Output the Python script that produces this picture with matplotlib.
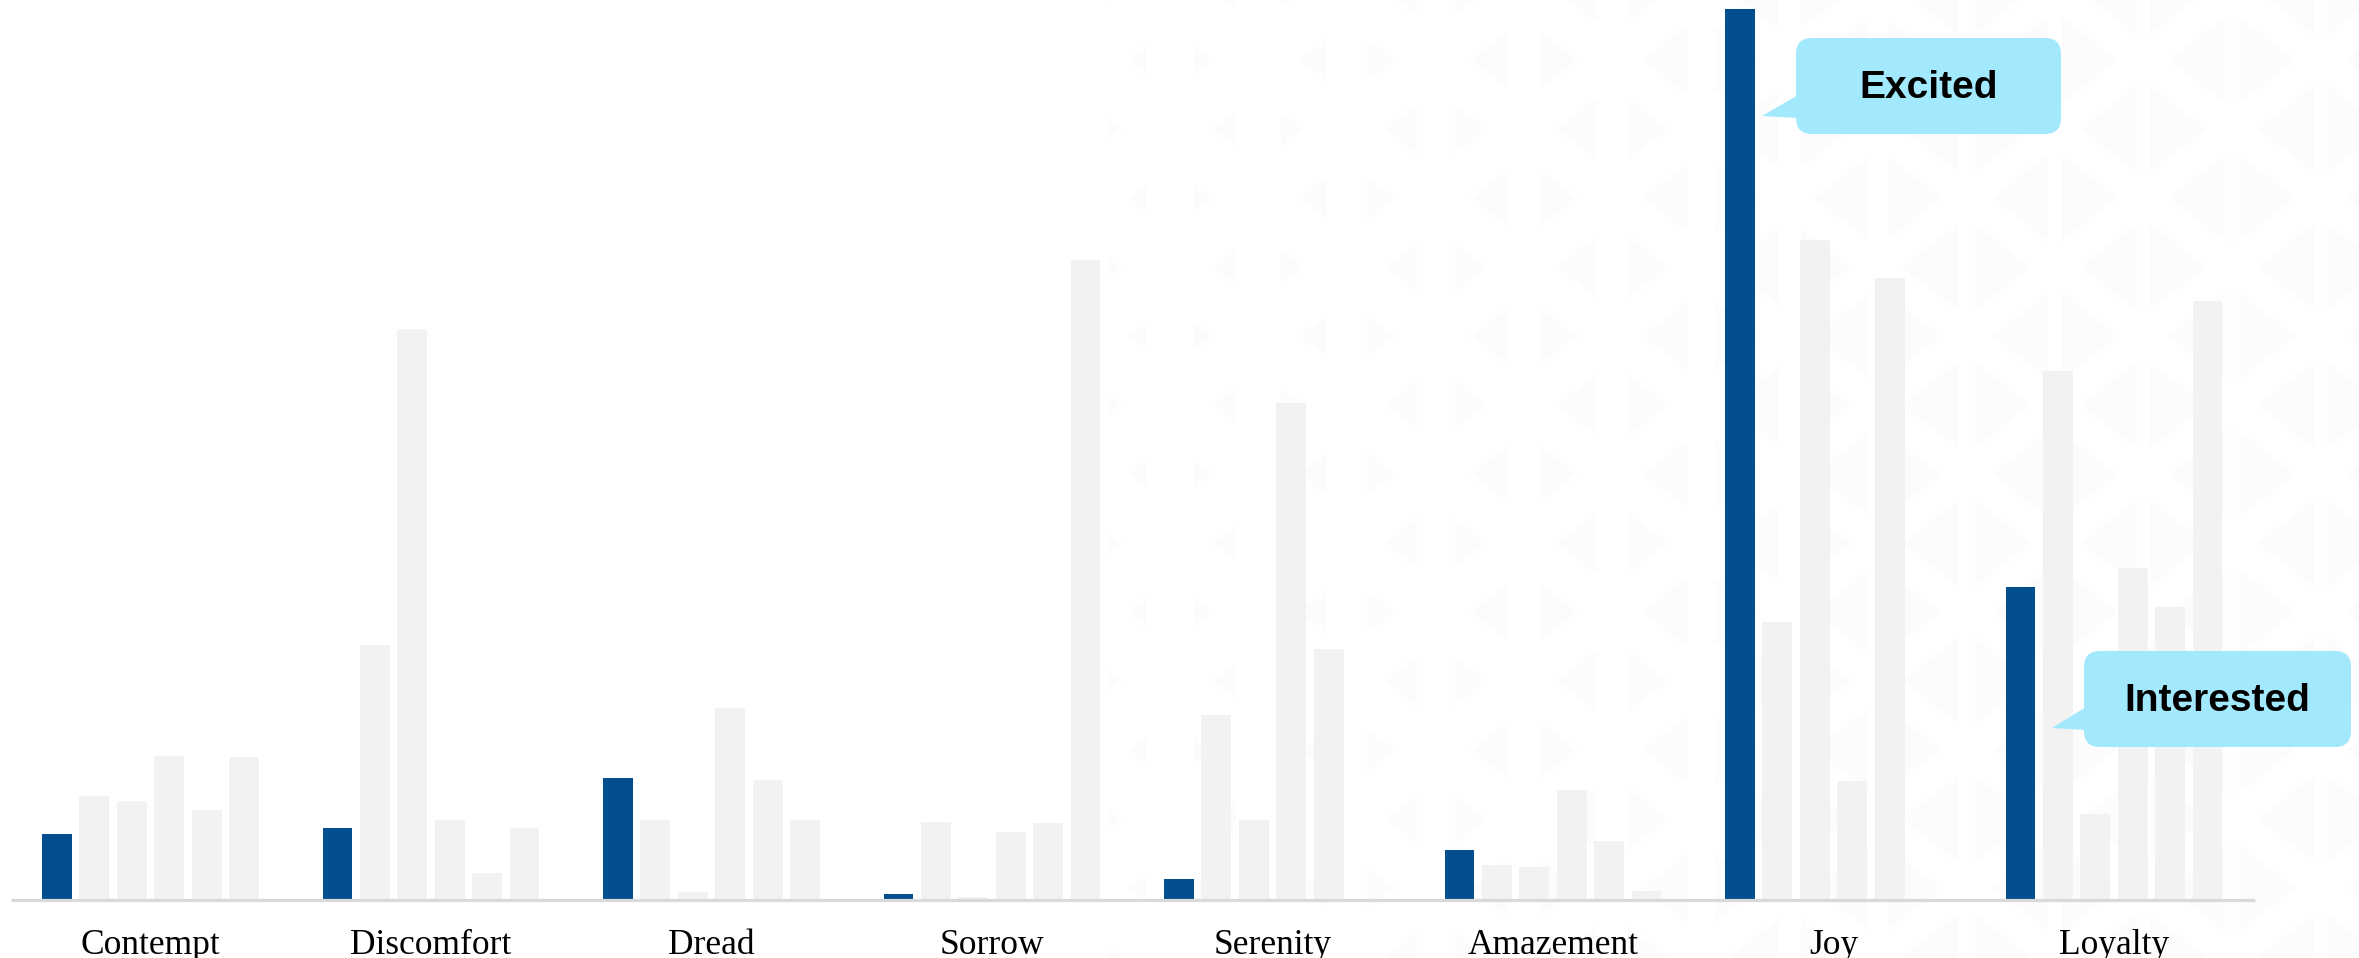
import matplotlib
matplotlib.use("Agg")
import matplotlib.pyplot as plt
from matplotlib.patches import Polygon, FancyBboxPatch
import numpy as np

# data (bar heights, arbitrary units)
categories = ["Contempt", "Discomfort", "Dread", "Sorrow",
              "Serenity", "Amazement", "Joy", "Loyalty"]
highlight = [44, 48, 81, 4, 14, 33, 593, 208]
series_2 = [69, 170, 53, 52, 123, 23, 185, 352]
series_3 = [66, 380, 5, 2, 53, 22, 439, 57]
series_4 = [96, 53, 128, 45, 331, 73, 79, 221]
series_5 = [60, 18, 80, 51, 167, 39, 414, 195]
series_6 = [95, 48, 53, 426, 0, 6, 0, 399]
callouts = [("Excited", "Joy"), ("Interested", "Loyalty")]

W, H = 2359, 958
BLUE = "#034e8e"
GREY = "#f2f2f2"
CYAN = "#a3e9fd"
PATTERN = "#fcfcfc"

fig = plt.figure(figsize=(W / 100, H / 100), dpi=100)

# faint triangle pattern in the background (pixel coordinates)
bg = fig.add_axes([0, 0, 1, 1], zorder=-1)
bg.set_xlim(0, W)
bg.set_ylim(H, 0)
bg.axis("off")
for r in range(-2, 16):
    y = 60 + 69 * r
    start = 1170 if r % 2 == 0 else 1081.5
    for j in range(-1, 8):
        cx = start + 177 * j
        w = min(17 + (cx - 1170) * 0.05, 55)
        h = 1.55 * w
        g = max(49 - (cx - 1170) * 0.04, 14)
        lb = cx - g / 2
        rb = cx + g / 2
        if lb - w >= 1100:
            bg.add_patch(Polygon([(lb, y - h / 2), (lb, y + h / 2), (lb - w, y)],
                                 closed=True, fc=PATTERN, ec="none"))
        if rb >= 1100:
            bg.add_patch(Polygon([(rb, y - h / 2), (rb, y + h / 2), (rb + w, y)],
                                 closed=True, fc=PATTERN, ec="none"))

# main bar chart
ax = fig.add_axes([0, 1 - 900 / H, 1, 900 / H], zorder=1)
ax.patch.set_alpha(0)
unit = 37.4
x0 = 57
ax.set_xlim(-x0 / unit, (W - x0) / unit)
ax.set_ylim(0, 599)

groups = np.arange(len(categories)) * 7.5
all_series = [highlight, series_2, series_3, series_4, series_5, series_6]
for k, vals in enumerate(all_series):
    ax.bar(groups + k, vals, width=0.8, color=BLUE if k == 0 else GREY,
           edgecolor="none", zorder=2)

ax.plot([-1.24, 58.77], [0, 0], color="#d9d9d9", lw=2.3, zorder=3,
        solid_capstyle="butt", clip_on=False)

for gx, name in zip(groups, categories):
    ax.text(gx + 2.5, -36, name, ha="center", va="baseline", clip_on=False,
            fontsize=25.5, family=["Liberation Serif", "DejaVu Serif"])

for side in ax.spines.values():
    side.set_visible(False)
ax.set_xticks([])
ax.set_yticks([])

# speech-bubble callouts (pixel coordinates)
ov = fig.add_axes([0, 0, 1, 1], zorder=5)
ov.set_xlim(0, W)
ov.set_ylim(H, 0)
ov.axis("off")
boxes = {"Excited": (1796, 38, 265, 96, (1762, 116), 95, 118),
         "Interested": (2084, 651, 267, 96, (2052, 728), 707, 730)}
for label, cat in callouts:
    bx, by, bw, bh, tip, p1, p2 = boxes[label]
    ov.add_patch(FancyBboxPatch((bx, by), bw, bh,
                                boxstyle="round,pad=0,rounding_size=16",
                                fc=CYAN, ec="none"))
    ov.add_patch(Polygon([tip, (bx + 2, p1), (bx + 2, p2)], closed=True,
                         fc=CYAN, ec="none"))
    ov.text(bx + bw / 2, by + bh / 2 + 2, label, ha="center", va="center",
            fontsize=28, fontweight="bold",
            family=["Liberation Sans", "DejaVu Sans"])

fig.savefig("out.png", dpi=100)
